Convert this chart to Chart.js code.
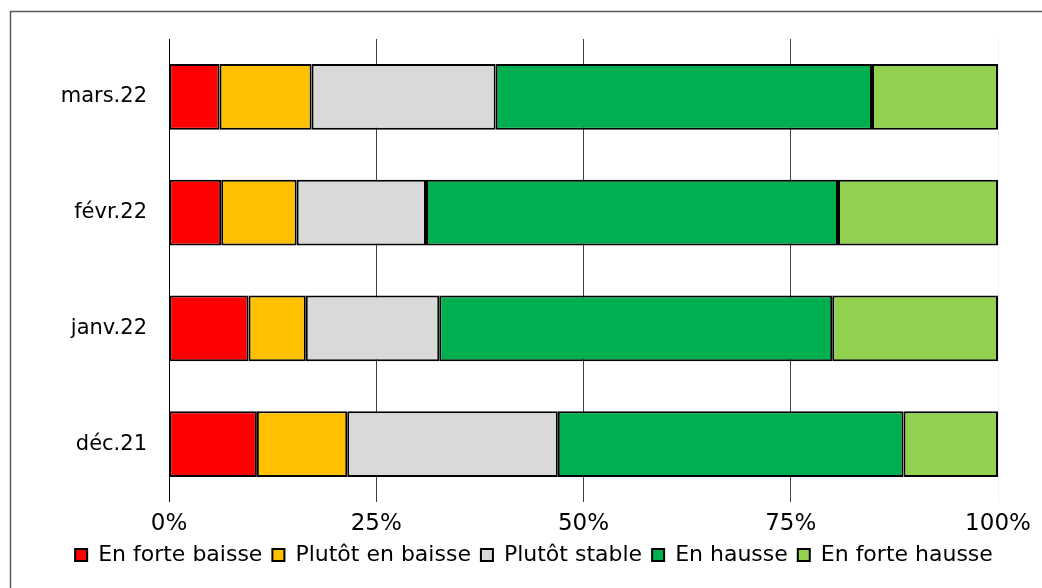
<!DOCTYPE html>
<html>
<head>
<meta charset="utf-8">
<script src="https://cdn.jsdelivr.net/npm/chart.js@4"></script>
<style>
  html, body { margin: 0; padding: 0; background: #fff; }
  #wrap { width: 1042px; height: 588px; }
</style>
</head>
<body>
<div id="wrap"><canvas id="myChart" width="1042" height="588"></canvas></div>
<script>
let months = ["mars.22", "févr.22", "janv.22", "déc.21"];
let forteBaisse = [6.1, 6.3, 9.6, 10.6];
let plutotBaisse = [11.1, 9.1, 6.9, 10.9];
let plutotStable = [22.2, 15.6, 16.1, 25.4];
let enHausse = [45.4, 49.7, 47.4, 41.7];
let forteHausse = [15.2, 19.3, 20.0, 11.4];
let xTicks = [0, 25, 50, 75, 100];

let seriesNames = ["En forte baisse", "Plutôt en baisse", "Plutôt stable", "En hausse", "En forte hausse"];
let seriesColors = ["#FF0000", "#FFC000", "#D9D9D9", "#00B050", "#92D050"];
let seriesData = [forteBaisse, plutotBaisse, plutotStable, enHausse, forteHausse];

Chart.defaults.font.family = "'DejaVu Sans', sans-serif";
Chart.defaults.color = "#000";

// grey frame around the chart, partly off the canvas
let framePlugin = {
  id: "frame",
  beforeDraw(chart) {
    let c = chart.ctx;
    c.save();
    c.strokeStyle = "#595959";
    c.lineWidth = 1.5;
    c.strokeRect(10.5, 11.5, 1100, 700);
    c.restore();
  },
  afterLayout(chart) {
    // legend sits a bit right of the plot centre in the original
    chart.legend.left += 30;
    chart.legend.right += 30;
  }
};

let ctx = document.getElementById("myChart");
let myChart = new Chart(ctx, {
  type: "bar",
  data: {
    labels: months,
    datasets: seriesNames.map((name, i) => ({
      label: name,
      data: seriesData[i],
      backgroundColor: seriesColors[i],
      borderColor: "#000",
      borderWidth: 2,
      borderSkipped: false,
      categoryPercentage: 1,
      barPercentage: 0.57
    }))
  },
  options: {
    indexAxis: "y",
    responsive: false,
    animation: false,
    layout: { padding: { left: 10, right: 44, top: 39, bottom: 12 } },
    scales: {
      x: {
        stacked: true,
        min: 0,
        max: 100,
        afterBuildTicks(axis) { axis.ticks = xTicks.map(v => ({ value: v })); },
        afterFit(axis) { axis.height = 32; },
        ticks: {
          font: { size: 23 },
          padding: 8,
          callback: v => v + "%"
        },
        grid: {
          color: ctx => ctx.tick.value === 0 ? "#000" : (ctx.tick.value === 100 ? "#f2f2f2" : "#404040"),
          lineWidth: 1,
          drawTicks: false
        },
        border: { display: false }
      },
      y: {
        stacked: true,
        afterFit(axis) { axis.width = 159; },
        ticks: { font: { size: 21 }, padding: 22 },
        grid: { display: false, drawTicks: false },
        border: { display: false }
      }
    },
    plugins: {
      legend: {
        position: "bottom",
        labels: {
          font: { size: 22 },
          boxWidth: 12,
          boxHeight: 12,
          padding: 10,
          useBorderRadius: false
        }
      },
      tooltip: { enabled: false }
    }
  },
  plugins: [framePlugin]
});
</script>
</body>
</html>
